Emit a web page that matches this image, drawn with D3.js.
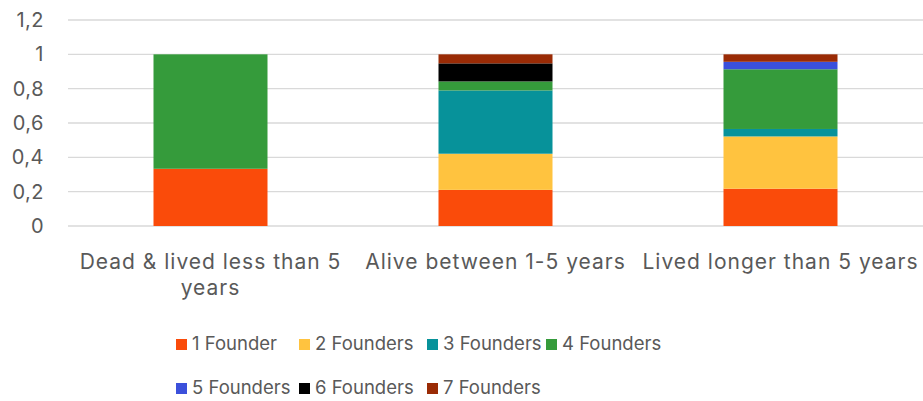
<!DOCTYPE html>
<html>
<head>
<meta charset="utf-8">
<script src="https://cdn.jsdelivr.net/npm/d3@7"></script>
<style>
  body { margin: 0; background: #fff; }
  text { font-family: "Inter", "Open Sans", sans-serif; fill: #595959; }
</style>
</head>
<body>
<div class="js-d3"></div>
<script>
const categories = ["Dead & lived less than 5 years", "Alive between 1-5 years", "Lived longer than 5 years"];
const seriesNames = ["1 Founder", "2 Founders", "3 Founders", "4 Founders", "5 Founders", "6 Founders", "7 Founders"];
const seriesColors = ["#fa4b0a", "#ffc33f", "#07929a", "#359b3b", "#3b50db", "#000000", "#9a2b05"];
// share of companies per founder count, one array per category
const deadShort = [1 / 3, 0, 0, 2 / 3, 0, 0, 0];
const aliveShort = [4 / 19, 4 / 19, 7 / 19, 1 / 19, 0, 2 / 19, 1 / 19];
const livedLong = [5 / 23, 7 / 23, 1 / 23, 8 / 23, 1 / 23, 0, 1 / 23];
const yTicks = [0, 0.2, 0.4, 0.6, 0.8, 1, 1.2];

const W = 923, H = 401;
const margin = { top: 20, right: 0, bottom: 175, left: 68 };
const w = W - margin.left - margin.right;
const h = H - margin.top - margin.bottom;

const rows = [deadShort, aliveShort, livedLong].map((vals, i) => {
  const r = { cat: categories[i] };
  seriesNames.forEach((s, j) => { r[s] = vals[j]; });
  return r;
});

const stack = d3.stack().keys(seriesNames)(rows);

const svg = d3.select(".js-d3").append("svg")
  .attr("width", W).attr("height", H);
const g = svg.append("g").attr("transform", `translate(${margin.left}, ${margin.top})`);

const x = d3.scaleBand().domain(categories).range([0, w]).paddingInner(0.6).paddingOuter(0.3);
const y = d3.scaleLinear().domain([0, 1.2]).range([h, 0]);
const fmt = (d) => String(d).replace(".", ",");

g.append("g").selectAll("line").data(yTicks).enter().append("line")
  .attr("x1", 0).attr("x2", w)
  .attr("y1", (d) => y(d)).attr("y2", (d) => y(d))
  .attr("stroke", "#d9d9d9").attr("stroke-width", 1.3);

g.append("g").selectAll("text").data(yTicks).enter().append("text")
  .attr("x", -24).attr("y", (d) => y(d))
  .attr("dy", "0.35em").attr("text-anchor", "end")
  .style("font-size", "20px")
  .style("letter-spacing", "0.5px")
  .text(fmt);

g.append("g").selectAll("g").data(stack).enter().append("g")
  .attr("fill", (d, i) => seriesColors[i])
  .selectAll("rect").data((d) => d).enter().append("rect")
  .attr("x", (d) => x(d.data.cat))
  .attr("width", x.bandwidth())
  .attr("y", (d) => y(d[1]))
  .attr("height", (d) => y(d[0]) - y(d[1]));

// category labels, wrapped to the band step
const step = x.step();
const catLabels = g.append("g").selectAll("text").data(categories).enter().append("text")
  .attr("text-anchor", "middle")
  .attr("x", (d) => x(d) + x.bandwidth() / 2)
  .attr("y", h + 43)
  .style("font-size", "21px")
  .style("letter-spacing", "1px");

catLabels.each(function (d) {
  const t = d3.select(this);
  const words = d.split(" ");
  let line = [];
  let tspan = t.append("tspan").attr("x", t.attr("x")).attr("dy", 0);
  words.forEach((word) => {
    line.push(word);
    tspan.text(line.join(" "));
    if (tspan.node().getComputedTextLength() > step - 4 && line.length > 1) {
      line.pop();
      tspan.text(line.join(" "));
      line = [word];
      tspan = t.append("tspan").attr("x", t.attr("x")).attr("dy", "1.25em").text(word);
    }
  });
});

// legend
const legendCols = [176, 299, 427, 546];
const legendRows = [342, 386];
const legend = svg.append("g").selectAll("g").data(seriesNames).enter().append("g")
  .attr("transform", (d, i) => {
    const col = i < 4 ? i : i - 4;
    const row = i < 4 ? 0 : 1;
    return `translate(${legendCols[col]}, ${legendRows[row]})`;
  });
legend.append("rect")
  .attr("x", 0).attr("y", -3).attr("width", 11).attr("height", 11)
  .attr("fill", (d, i) => seriesColors[i]);
legend.append("text")
  .attr("x", 16).attr("y", 2).attr("dy", "0.35em")
  .style("font-size", "18.5px")
  .text((d) => d);
</script>
</body>
</html>
